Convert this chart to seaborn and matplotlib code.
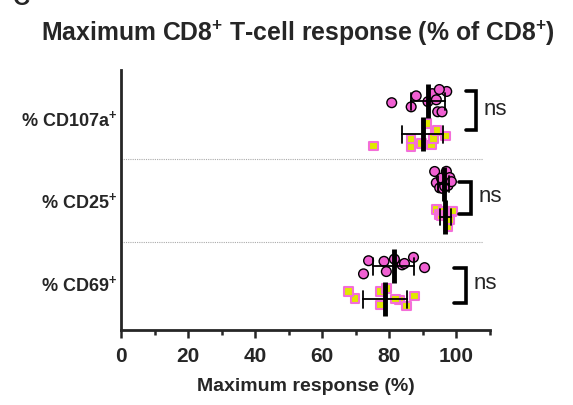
import matplotlib
matplotlib.use("Agg")
import matplotlib.pyplot as plt
import seaborn as sns
import pandas as pd
import numpy as np

# ---- data ----
categories = ["CD107a", "CD25", "CD69"]
series_names = ["Group A", "Group B"]

cd107a_a = [80.7, 86.5, 88.0, 91.5, 94.4, 95.7, 97.1, 92.8, 94.9, 94.0]
cd107a_b = [75.3, 86.5, 86.5, 92.5, 89.5, 93.8, 91.0, 93.2, 96.7, 94.2]
cd25_a = [93.5, 94.0, 95.0, 95.5, 96.0, 96.5, 97.0, 97.5, 98.0, 98.5]
cd25_b = [94.0, 95.0, 95.5, 96.0, 96.5, 97.0, 97.5, 98.0, 98.5, 99.0]
cd69_a = [73.8, 79.1, 83.8, 87.2, 90.5, 72.3, 78.4, 81.5, 84.5]
cd69_b = [69.8, 67.9, 77.3, 83.0, 79.1, 81.8, 87.5, 77.3, 85.1]

tick_labels = [r"% CD107a$^{+}$", r"% CD25$^{+}$", r"% CD69$^{+}$"]
sig_labels = ["ns", "ns", "ns"]

rows = []
for cat, a, b in zip(categories, [cd107a_a, cd25_a, cd69_a], [cd107a_b, cd25_b, cd69_b]):
    rows += [(cat, series_names[0], v) for v in a]
    rows += [(cat, series_names[1], v) for v in b]
df = pd.DataFrame(rows, columns=["marker", "series", "value"])

# ---- style ----
sns.set_style("ticks")
plt.rcParams["font.family"] = ["Liberation Sans", "DejaVu Sans"]
plt.rcParams["font.weight"] = "bold"
plt.rcParams["mathtext.fontset"] = "custom"
plt.rcParams["mathtext.rm"] = "Liberation Sans:bold"
plt.rcParams["mathtext.bf"] = "Liberation Sans:bold"
plt.rcParams["mathtext.default"] = "rm"

pink = "#F05FD2"
sq_edge = "#F46ED8"
yellow = "#E0E800"

fig = plt.figure(figsize=(5.73, 4.05), dpi=100)
ax = fig.add_axes([121/573, 75/405, (490-121)/573, (330-70)/405])

np.random.seed(3)  # jitter only
sns.stripplot(data=df[df.series == series_names[0]], x="value", y="marker",
              hue="series", hue_order=series_names, order=categories,
              dodge=True, jitter=0.32, orient="h",
              palette={series_names[0]: pink, series_names[1]: yellow},
              marker="o", size=7, edgecolor="black", linewidth=1.0, legend=False, ax=ax, zorder=3)
sns.stripplot(data=df[df.series == series_names[1]], x="value", y="marker",
              hue="series", hue_order=series_names, order=categories,
              dodge=True, jitter=0.32, orient="h",
              palette={series_names[0]: pink, series_names[1]: yellow},
              marker="s", size=6.2, edgecolor=sq_edge, linewidth=1.5, legend=False, ax=ax, zorder=3)

sns.pointplot(data=df, x="value", y="marker", hue="series", hue_order=series_names,
              order=categories, orient="h", dodge=0.4, estimator="mean", errorbar="sd",
              capsize=0.2, markers="|", linestyles="none",
              palette={series_names[0]: "black", series_names[1]: "black"},
              markersize=25, markeredgewidth=3.5, err_kws={"linewidth": 1.3},
              legend=False, ax=ax, zorder=5)

# separators
for yv in [0.5, 1.5]:
    ax.axhline(yv, xmin=0, xmax=0.982, color="#aaaaaa", linestyle=(0, (1, 1)), linewidth=0.8, zorder=1)

# significance brackets
bracket_x = [(102.9, 105.9), (100.9, 104.4), (99.4, 102.9)]
bracket_y = [(-0.32, 0.15), (-0.22, 0.16), (-0.18, 0.24)]
for i, ((x0, x1), (y0, y1)) in enumerate(zip(bracket_x, bracket_y)):
    ax.plot([x0, x1, x1, x0], [i + y0, i + y0, i + y1, i + y1], color="black",
            linewidth=2.6, solid_joinstyle="miter", clip_on=False, zorder=6)
    ax.text(x1 + 2.3, i + (y0 + y1) / 2 - 0.02, sig_labels[i], fontsize=16, fontweight="normal",
            va="center", ha="left", clip_on=False)

ax.set_xlim(0, 110)
ax.set_ylim(2.57, -0.58)
ax.set_xticks([0, 20, 40, 60, 80, 100])
ax.set_xticks(np.arange(10, 111, 20), minor=True)
ax.set_xticklabels(["0", "20", "40", "60", "80", "100"], fontsize=15, fontweight="bold")
ax.set_yticks(range(len(categories)))
ax.set_yticklabels(tick_labels, fontsize=13, fontweight="bold")
ax.tick_params(axis="y", length=0, pad=3)
ax.tick_params(axis="x", which="major", length=6, width=1.8, pad=6)
ax.tick_params(axis="x", which="minor", length=3.5, width=1.8)
ax.set_xlabel("Maximum response (%)", fontsize=14, fontweight="bold", labelpad=9)
ax.set_ylabel("")
for s in ["left", "bottom"]:
    ax.spines[s].set_linewidth(2)
sns.despine(ax=ax)

fig.text(298/573, 1 - 33/405, r"Maximum CD8$^{+}$ T-cell response (% of CD8$^{+}$)",
         ha="center", va="center", fontsize=17.8, fontweight="bold")
fig.text(13/573, 1 - 5/405, "C", ha="left", va="baseline", fontsize=17, fontweight="bold")

fig.savefig("out.png", dpi=100)
